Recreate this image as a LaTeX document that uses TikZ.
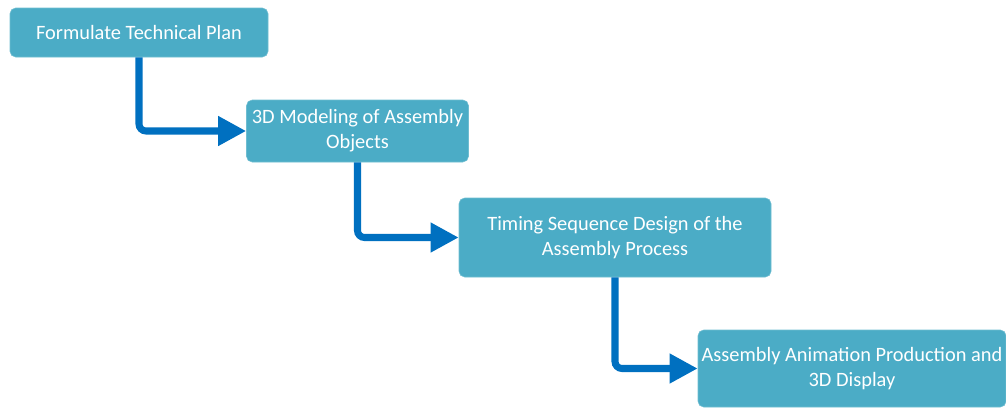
\documentclass[tikz,border=0pt]{standalone}
\usepackage{fontspec}
\setmainfont{Carlito}
\usepackage{tikz}
\usetikzlibrary{arrows.meta, positioning}

\definecolor{boxfill}{RGB}{75,172,198}
\definecolor{flowblue}{RGB}{0,112,192}

\begin{document}
\begin{tikzpicture}[x=0.025cm, y=-0.025cm,
    stepbox/.style={fill=boxfill, draw=boxfill!80!white, line width=0.4pt,
        rounded corners=4pt, inner sep=0pt, align=center, text=white,
        font=\fontsize{14.5}{17.7}\selectfont},
    flow/.style={draw=flowblue, line width=5pt, rounded corners=5pt,
        -{Triangle[length=20pt, width=20pt]}}]
    \useasboundingbox (0,0) rectangle (1006,408);

    \node[stepbox, minimum width=258*0.025cm, minimum height=49*0.025cm]
        (plan) at (139,32.5) {Formulate Technical Plan};
    \node[stepbox, minimum width=222*0.025cm, minimum height=62*0.025cm]
        (model) at (357.5,131) {3D Modeling of Assembly\\Objects};
    \node[stepbox, minimum width=312*0.025cm, minimum height=79*0.025cm]
        (timing) at (615,237.5) {Timing Sequence Design of the\\Assembly Process};
    \node[stepbox, minimum width=308*0.025cm, minimum height=77*0.025cm]
        (anim) at (852,368.5) {Assembly Animation Production and\\3D Display};

    \draw[flow] (plan.south) |- (model.west);
    \draw[flow] (model.south) |- (timing.west);
    \draw[flow] (timing.south) |- (anim.west);

\end{tikzpicture}
\end{document}
